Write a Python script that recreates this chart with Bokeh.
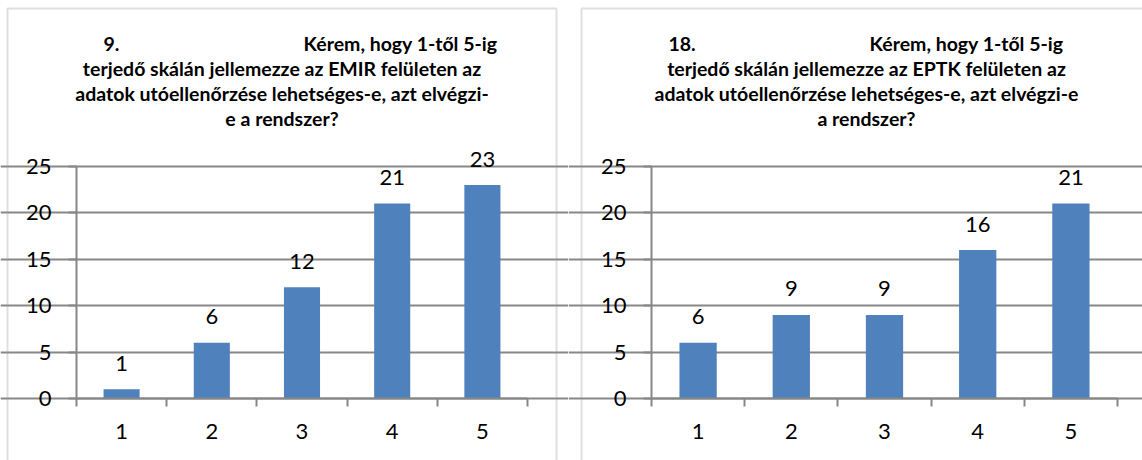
from bokeh.plotting import figure
from bokeh.models import (ColumnDataSource, LabelSet, Label, Range1d,
                          FixedTicker, BoxAnnotation, LinearAxis)
from bokeh.layouts import row
from bokeh.embed import file_html
from bokeh.resources import INLINE
from bokeh.core.properties import value

# Survey answers on a 1-5 scale
categories = ["1", "2", "3", "4", "5"]
emir_counts = [1, 6, 12, 21, 23]
eptk_counts = [6, 9, 9, 16, 21]
y_ticks = [0, 5, 10, 15, 20, 25]

emir_number = "9."
eptk_number = "18."
question_head = "Kérem, hogy 1-től 5-ig"
emir_lines = [
    "terjedő skálán jellemezze az EMIR felületen az",
    "adatok utóellenőrzése lehetséges-e, azt elvégzi-",
    "e a rendszer?",
]
eptk_lines = [
    "terjedő skálán jellemezze az EPTK felületen az",
    "adatok utóellenőrzése lehetséges-e, azt elvégzi-e",
    "a rendszer?",
]

FONT = "Lato"
BAR = "#4F81BD"
GRID = "#878787"
BORDER = "#959595"
H = 460
PLOT_TOP, PLOT_BOTTOM = 166, 398   # pixel rows of the value axis ends


def panel(width, frame_left, frame_right, box_left, box_right,
          number, head, lines, counts, num_x, head_x, center_x):
    n = len(categories)
    ppx = (frame_right - frame_left) / n
    ppy = (PLOT_BOTTOM - PLOT_TOP) / (y_ticks[-1] - y_ticks[0])
    # the plotting area fills the whole canvas; axes sit at fixed positions inside it
    x_range = Range1d(0.5 - frame_left / ppx, n + 0.5 + (width - frame_right) / ppx)
    y_range = Range1d(y_ticks[0] - (H - PLOT_BOTTOM) / ppy, y_ticks[-1] + PLOT_TOP / ppy)
    p = figure(width=width, height=H, output_backend="svg",
               toolbar_location=None, title=None,
               x_range=x_range, y_range=y_range,
               x_axis_location=None, y_axis_location=None,
               min_border=0)
    p.outline_line_color = None
    p.background_fill_color = "white"
    p.border_fill_color = "white"

    xs = list(range(1, n + 1))
    src = ColumnDataSource(dict(x=xs, y=counts, label=[str(v) for v in counts]))

    # horizontal grid
    p.ygrid.ticker = FixedTicker(ticks=y_ticks)
    p.ygrid.bounds = (0.5, n + 0.5)
    p.ygrid.grid_line_color = GRID
    p.ygrid.grid_line_width = 2
    p.xgrid.visible = False

    p.vbar(x="x", top="y", width=0.4, source=src, fill_color=BAR, line_color=None)

    p.add_layout(LabelSet(x="x", y="y", text="label", source=src,
                          y_offset=26, text_align="center", text_baseline="middle",
                          text_font=value(FONT), text_font_size="22px",
                          text_color="black"))

    yaxis = LinearAxis(fixed_location=0.5, bounds=(y_ticks[0], y_ticks[-1]),
                       ticker=FixedTicker(ticks=y_ticks))
    bounds = [x - 0.5 for x in xs] + [xs[-1] + 0.5]
    xaxis = LinearAxis(fixed_location=0, bounds=(0.5, n + 0.5),
                       ticker=FixedTicker(ticks=xs, minor_ticks=bounds),
                       major_label_overrides={x: c for x, c in zip(xs, categories)})
    for ax in (xaxis, yaxis):
        ax.axis_line_color = GRID
        ax.axis_line_width = 2
        ax.major_label_text_font = FONT
        ax.major_label_text_font_size = "22px"
        ax.major_label_text_color = "black"
        ax.minor_tick_line_color = GRID
        ax.minor_tick_line_width = 2
        ax.major_tick_line_color = GRID
        ax.major_tick_line_width = 2
        ax.major_tick_in = 0
        ax.minor_tick_in = 0
    yaxis.major_tick_out = 8
    yaxis.minor_tick_out = 0
    yaxis.major_label_standoff = 17
    # category labels centred, tick marks on category boundaries
    xaxis.major_tick_out = 0
    xaxis.minor_tick_out = 8
    xaxis.major_label_standoff = 17
    p.add_layout(yaxis, "left")
    p.add_layout(xaxis, "below")

    # panel frame
    p.add_layout(BoxAnnotation(left=box_left, right=box_right, top=H - 8, bottom=-20,
                               left_units="screen", right_units="screen",
                               top_units="screen", bottom_units="screen",
                               fill_color=None, line_color=BORDER, line_width=2))

    # wrapped question title
    def tl(text, x, y, align):
        p.add_layout(Label(x=x, y=H - y, x_units="screen", y_units="screen",
                           text=text, text_align=align, text_baseline="middle",
                           text_font=FONT, text_font_style="bold",
                           text_font_size="19.5px", text_color="black"))

    tl(number, num_x, 43, "left")
    tl(head, head_x, 43, "right")
    for i, t in enumerate(lines):
        tl(t, center_x, 68 + 25 * i, "center")
    return p


p1 = panel(568, 76, 527, 7, 556, emir_number, question_head, emir_lines,
           emir_counts, 103, 497, 281.5)
p2 = panel(574, 83, 549, 13, 600, eptk_number, question_head, eptk_lines,
           eptk_counts, 100, 495, 298)

layout = row(p1, p2)
open("out.html", "w").write(file_html(layout, INLINE))
